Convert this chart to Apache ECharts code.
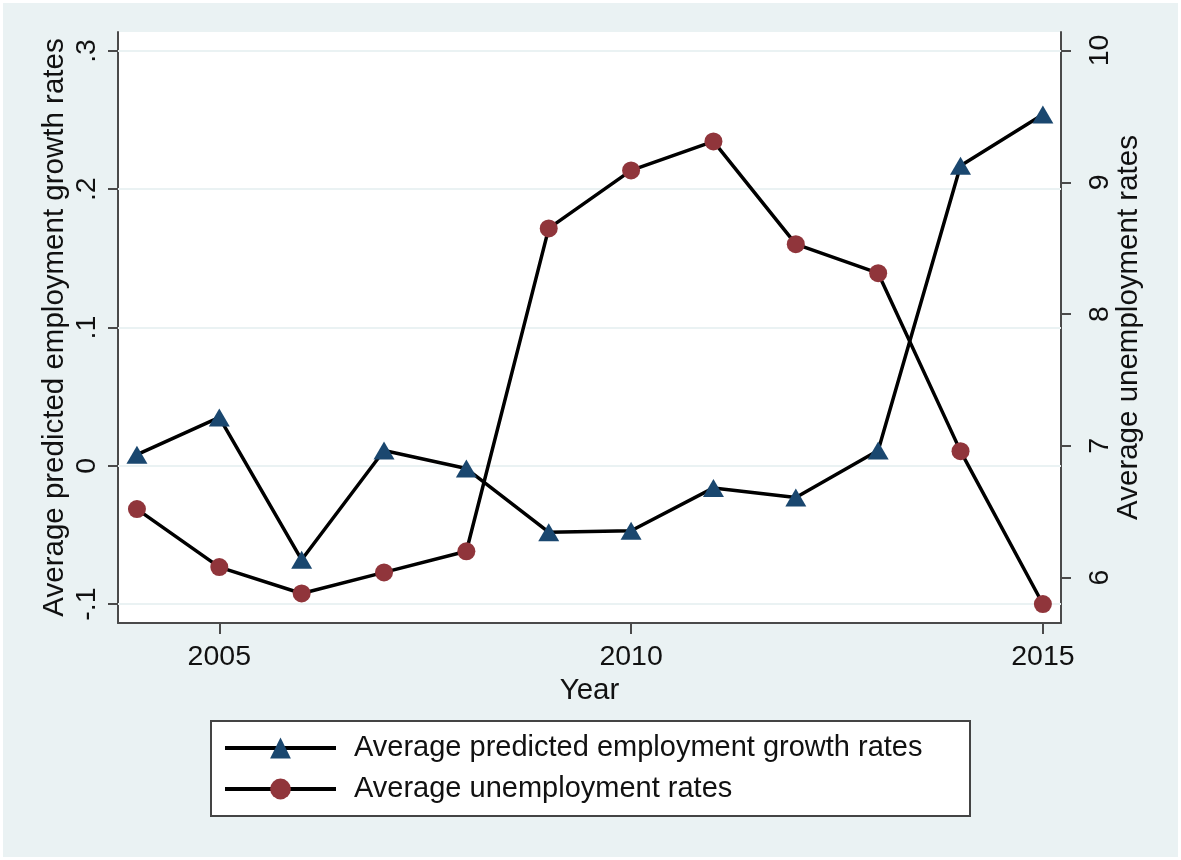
<!DOCTYPE html>
<html>
<head>
<meta charset="utf-8">
<script src="https://cdn.jsdelivr.net/npm/echarts@6/dist/echarts.min.js"></script>
<style>
  html, body { margin: 0; padding: 0; background: #fff; }
  #chart { width: 1181px; height: 860px; }
</style>
</head>
<body>
<div id="chart"></div>
<script>
const years = [2004, 2005, 2006, 2007, 2008, 2009, 2010, 2011, 2012, 2013, 2014, 2015];
const growthRates = [0.008, 0.035, -0.068, 0.011, -0.002, -0.048, -0.047, -0.016, -0.023, 0.011, 0.217, 0.254];
const unemploymentRates = [6.52, 6.08, 5.88, 6.04, 6.20, 8.65, 9.09, 9.31, 8.53, 8.31, 6.96, 5.80];
const xTicks = [2005, 2010, 2015];
const leftTicks = [-0.1, 0, 0.1, 0.2, 0.3];
const leftTickLabels = ['-.1', '0', '.1', '.2', '.3'];
const rightTicks = [6, 7, 8, 9, 10];
const rightTickLabels = ['6', '7', '8', '9', '10'];
const seriesNames = ['Average predicted employment growth rates', 'Average unemployment rates'];
const xTitle = 'Year';

const FONT = 'Liberation Sans';
const axisColor = '#4a4a4a';
const bg = '#eaf2f3';
const TICK_FS = 28.5;
const TITLE_FS = 29.5;

function pairs(xs, ys) { return xs.map((x, i) => [x, ys[i]]); }

const chart = echarts.init(document.getElementById('chart'));
chart.setOption({
  backgroundColor: bg,
  animation: false,
  textStyle: { fontFamily: FONT },
  graphic: [
    { type: 'rect', z: 100, silent: true,
      shape: { x: 1.5, y: 1.5, width: 1178, height: 857 },
      style: { fill: 'none', stroke: '#ffffff', lineWidth: 3 } },
    { type: 'rect', z: 1, silent: true,
      shape: { x: 211, y: 721, width: 759, height: 95 },
      style: { fill: '#ffffff', stroke: '#444444', lineWidth: 2 } }
  ],
  grid: {
    left: 118, right: 120, top: 32, bottom: 237,
    show: true, backgroundColor: '#ffffff', borderWidth: 0
  },
  legend: {
    orient: 'vertical',
    left: 223, top: 733,
    padding: 0,
    itemWidth: 111, itemHeight: 26, itemGap: 11,
    z: 5,
    lineStyle: { width: 4 },
    textStyle: { fontFamily: FONT, fontSize: 29, color: '#111', lineHeight: 30, padding: [0, 0, 0, 13] },
    data: seriesNames
  },
  xAxis: {
    type: 'value',
    min: 2003.77, max: 2015.22,
    name: xTitle, nameLocation: 'middle', nameGap: 53, nameMoveOverlap: false,
    nameTextStyle: { fontFamily: FONT, fontSize: TITLE_FS, color: '#111' },
    axisLine: { show: true, onZero: false, lineStyle: { color: axisColor, width: 2 } },
    axisTick: { show: true, inside: false, customValues: xTicks, length: 11, lineStyle: { color: axisColor, width: 2 } },
    axisLabel: { customValues: xTicks, margin: 20, fontFamily: FONT, fontSize: TICK_FS, color: '#111',
      formatter: v => String(v) },
    splitLine: { show: false }
  },
  yAxis: [
    {
      type: 'value', position: 'left',
      min: -0.1137, max: 0.3137,
      name: seriesNames[0], nameLocation: 'middle', nameRotate: 90, nameGap: 48, nameMoveOverlap: false,
      nameTextStyle: { fontFamily: FONT, fontSize: TITLE_FS, color: '#111' },
      axisLine: { show: true, onZero: false, lineStyle: { color: axisColor, width: 2 } },
      axisTick: { show: true, customValues: leftTicks, length: 10, lineStyle: { color: axisColor, width: 2 } },
      axisLabel: { customValues: leftTicks, rotate: 90, margin: 16, fontFamily: FONT, fontSize: TICK_FS, color: '#111',
        formatter: v => leftTickLabels[leftTicks.findIndex(t => Math.abs(t - v) < 1e-9)] },
      splitLine: { show: false }
    },
    {
      type: 'value', position: 'right',
      min: 5.656, max: 10.14,
      name: seriesNames[1], nameLocation: 'middle', nameRotate: 90, nameGap: 53, nameMoveOverlap: false,
      nameTextStyle: { fontFamily: FONT, fontSize: TITLE_FS, color: '#111' },
      axisLine: { show: true, onZero: false, lineStyle: { color: axisColor, width: 2 } },
      axisTick: { show: true, customValues: rightTicks, length: 10, lineStyle: { color: axisColor, width: 2 } },
      axisLabel: { customValues: rightTicks, rotate: 90, margin: 25, fontFamily: FONT, fontSize: TICK_FS, color: '#111',
        formatter: v => rightTickLabels[rightTicks.findIndex(t => Math.abs(t - v) < 1e-9)] },
      splitLine: { show: false }
    }
  ],
  series: [
    {
      name: seriesNames[0], type: 'line', yAxisIndex: 0,
      data: pairs(years, growthRates),
      symbol: 'triangle', symbolSize: [21, 18],
      itemStyle: { color: '#1a476f' },
      lineStyle: { color: '#000', width: 3.5 },
      z: 3,
      markLine: {
        silent: true, symbol: 'none', z: 1,
        label: { show: false },
        lineStyle: { color: bg, width: 2, type: 'solid' },
        data: leftTicks.map(t => ({ yAxis: t }))
      }
    },
    {
      name: seriesNames[1], type: 'line', yAxisIndex: 1,
      data: pairs(years, unemploymentRates),
      symbol: 'circle', symbolSize: 18,
      itemStyle: { color: '#90353b' },
      lineStyle: { color: '#000', width: 3.5 },
      z: 3
    }
  ]
});
</script>
</body>
</html>
